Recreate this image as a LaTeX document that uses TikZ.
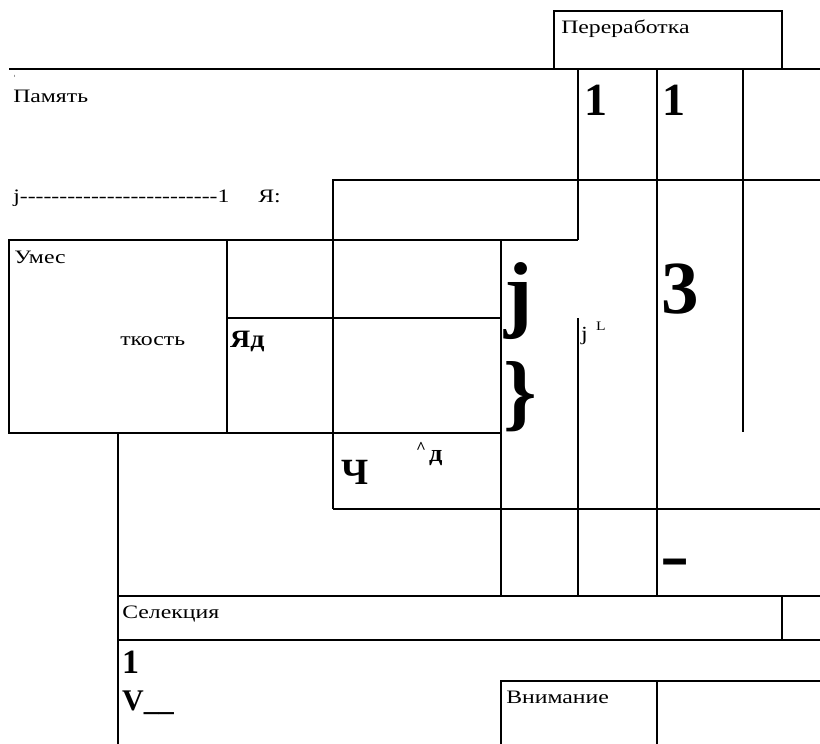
\documentclass[tikz,border=0pt]{standalone}
\usepackage{fontspec}
\setmainfont{Liberation Serif}[Ligatures=TeXOff]
\tikzset{
  ln/.style={line width=2pt, line join=miter},
  lbl/.style={inner sep=0pt, anchor=base west, xscale=1.25, font=\fontsize{19}{19}\selectfont},
  bld/.style={inner sep=0pt, anchor=base west},
}
\begin{document}
\begin{tikzpicture}[x=1pt,y=-1pt]
\useasboundingbox (0,0) rectangle (820,744);
% lines
\draw[ln] (554,69) -- (554,11) -- (782,11) -- (782,69);
\draw[ln] (9,69) -- (820,69);
\draw[ln] (578,69) -- (578,240);
\draw[ln] (657,69) -- (657,596);
\draw[ln] (743,69) -- (743,432);
\draw[ln] (820,180) -- (333,180) -- (333,509);
\draw[ln] (9,240) -- (578,240);
\draw[ln] (9,240) rectangle (227,433);
\draw[ln] (227,318) -- (501,318);
\draw[ln] (9,433) -- (501,433);
\draw[ln] (118,433) -- (118,744);
\draw[ln] (501,240) -- (501,596);
\draw[ln] (578,318) -- (578,596);
\draw[ln] (333,509) -- (820,509);
\draw[ln] (118,596) -- (820,596);
\draw[ln] (118,640) -- (820,640);
\draw[ln] (782,596) -- (782,640);
\draw[ln] (501,744) -- (501,681) -- (820,681);
\draw[ln] (657,681) -- (657,744);
% texts
\node[lbl] (t1) at (561,33) {Переработка};
\node[bld, font=\fontsize{4}{4}\selectfont] (t2) at (14,77) {t};
\node[lbl] (t3) at (13,102) {Память};
\node[lbl] (t4) at (13,202) {j-------------------------1};
\node[lbl] (t5) at (258,202) {Я:};
\node[lbl] (t6) at (14,263) {Умес};
\node[lbl] (t7) at (120,345) {ткость};
\node[bld, xscale=1.12, font=\fontsize{25}{25}\selectfont\bfseries] (t8) at (230,347) {Яд};
\node[bld, font=\fontsize{46}{46}\selectfont\bfseries] (t9) at (584,115) {1};
\node[bld, font=\fontsize{46}{46}\selectfont\bfseries] (t10) at (662,115) {1};
\node[bld, font=\fontsize{75}{75}\selectfont\bfseries] (t11) at (661,313) {3};
\node[bld, font=\fontsize{85}{85}\selectfont\bfseries] (t12) at (504,321) {j};
\node[bld, font=\fontsize{85}{85}\selectfont\bfseries] (t13) at (503,420) {\}};
\node[bld, xscale=1.2, font=\fontsize{20}{20}\selectfont] (t14) at (581,340) {j};
\node[bld, xscale=1.2, font=\fontsize{13}{13}\selectfont] (t15) at (596,330) {L};
\node[bld, font=\fontsize{37}{37}\selectfont\bfseries] (t16) at (341,484) {Ч};
\node[bld, font=\fontsize{17}{17}\selectfont\bfseries] (t17) at (416,453) {\^{}};
\node[bld, xscale=1.1, font=\fontsize{24}{24}\selectfont\bfseries] (t17b) at (429,461) {д};
\node[bld, xscale=1.25, font=\fontsize{70}{70}\selectfont\bfseries] (t18) at (660,578) {-};
\node[lbl] (t19) at (122,618) {Селекция};
\node[bld, font=\fontsize{34}{34}\selectfont\bfseries] (t20) at (122,673) {1};
\node[bld, font=\fontsize{30}{30}\selectfont\bfseries] (t21) at (122,710) {V\_\_};
\node[lbl] (t22) at (506,703) {Внимание};
\end{tikzpicture}
\end{document}
